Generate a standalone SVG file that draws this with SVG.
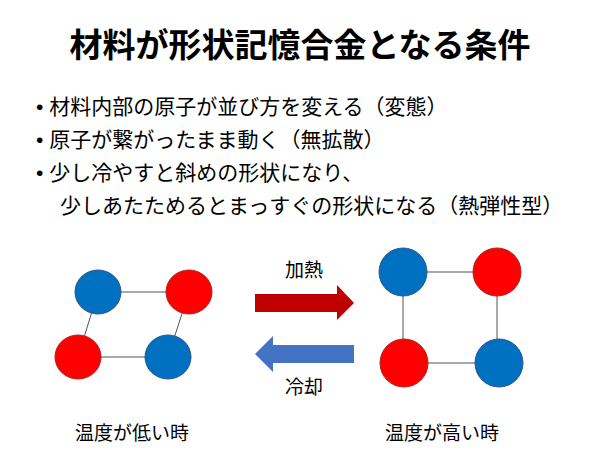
<svg xmlns="http://www.w3.org/2000/svg" width="600" height="450" viewBox="0 0 600 450">
<style>
text{font-family:"Liberation Sans","Noto Sans CJK JP",sans-serif;fill:#000}
.b{font-size:21px}
.l{font-size:19px;text-anchor:middle}
.bl{fill:#0070C0;stroke:#2F528F;stroke-width:1}
.rd{fill:#FF0000;stroke:#B02020;stroke-width:1}
.ln{stroke:#555;stroke-width:1;fill:none}
</style>
<rect width="600" height="450" fill="#fff"/>
<text x="300" y="57" font-size="33" font-weight="bold" text-anchor="middle">材料が形状記憶合金となる条件</text>
<g id="bullets">
<text class="b" x="36" y="114">• 材料内部の原子が並び方を変える（変態）</text>
<text class="b" x="36" y="147">• 原子が繋がったまま動く（無拡散）</text>
<text class="b" x="36" y="180">• 少し冷やすと斜めの形状になり、</text>
<text class="b" x="60" y="213">少しあたためるとまっすぐの形状になる（熱弾性型）</text>
</g>
<g id="connectors">
<path class="ln" d="M98 292H189M78 357H168M98 292L78 357M189 292L168 357"/>
<path class="ln" d="M403 272H497M404 363H499M403 272V363M497 272V363"/>
<polygon fill="#C00000" points="255,294 337,294 337,285 354,303 337,320 337,312 255,312"/>
<polygon fill="#4472C4" points="354,345 273,345 273,336 255,354 273,372 273,363 354,363"/>
</g>
<g id="low">
<ellipse class="bl" cx="98" cy="292" rx="23" ry="22"/>
<ellipse class="rd" cx="189" cy="292" rx="23" ry="22"/>
<ellipse class="rd" cx="78" cy="357" rx="23" ry="22"/>
<ellipse class="bl" cx="168" cy="357" rx="23" ry="22"/>
</g>
<g id="high">
<circle class="bl" cx="403" cy="272" r="24"/>
<circle class="rd" cx="497" cy="272" r="24"/>
<circle class="rd" cx="404" cy="363" r="24"/>
<circle class="bl" cx="499" cy="363" r="24"/>
</g>
<text class="l" x="304" y="277">加熱</text>
<text class="l" x="304" y="394">冷却</text>
<text class="l" x="132" y="440">温度が低い時</text>
<text class="l" x="442" y="440">温度が高い時</text>
</svg>
